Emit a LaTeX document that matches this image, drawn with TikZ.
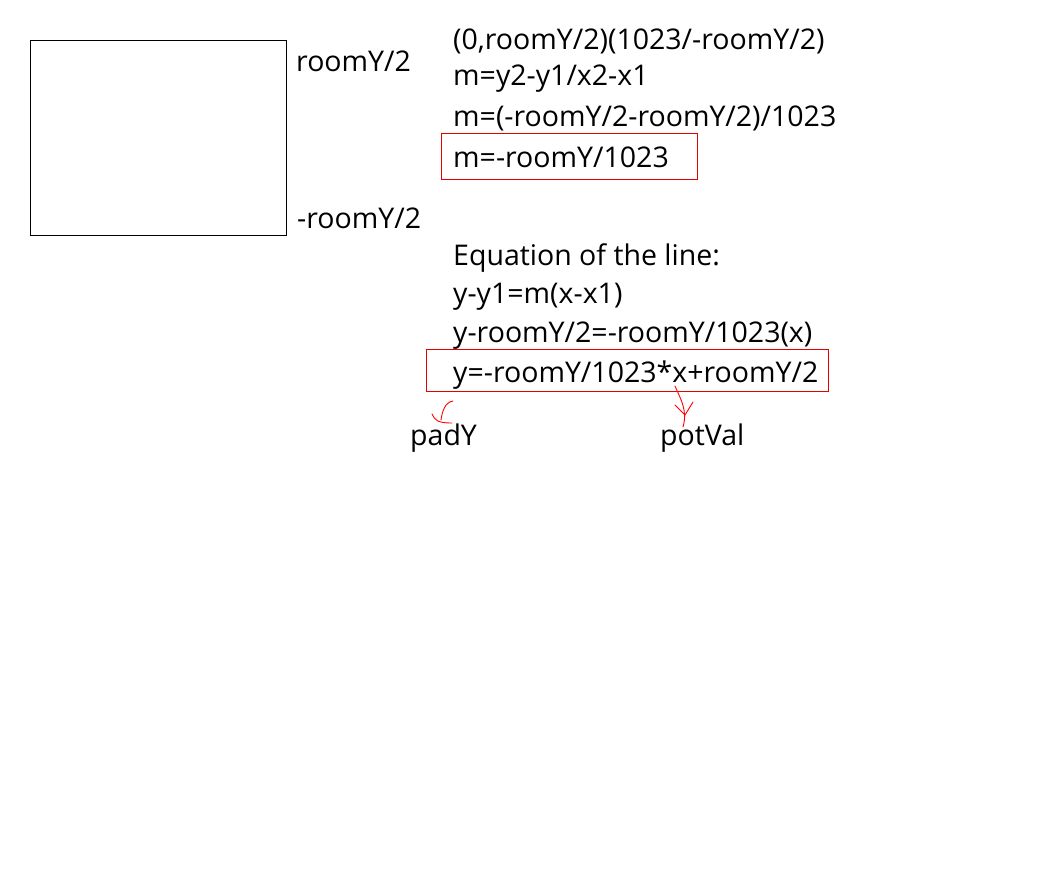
\documentclass[tikz,border=0pt]{standalone}
\usepackage{fontspec}
\setmainfont{Open Sans}
\begin{document}
\begin{tikzpicture}[x=1pt,y=-1pt,
	txt/.style={anchor=west, inner sep=0pt, font=\fontsize{28.5}{32}\selectfont},
	caja/.style={red!90!black, line width=1pt},
	trazo/.style={red, line width=0.9pt, line cap=round, line join=round}]
	\useasboundingbox (0,0) rectangle (1055,876);

	% Habitación
		\draw[line width=1pt] (30.5,40.5) rectangle (286.5,235.5);
		\node[txt] (top) at (296,61) {roomY/2};
		\node[txt] (bot) at (297,218) {-roomY/2};

	% Pendiente
		\node[txt] (p1) at (453,41) {(0,roomY/2)(1023/-roomY/2)};
		\node[txt] (m1) at (453,79) {m=y2-y1/x2-x1};
		\node[txt] (m2) at (453,118) {m=(-roomY/2-roomY/2)/1023};
		\node[txt] (m3) at (453,157) {m=-roomY/1023};
		\draw[caja] (441.5,133.5) rectangle (697.5,179.5);

	% Recta
		\node[txt] (e0) at (453,258) {Equation of the line:};
		\node[txt] (e1) at (453,297) {y-y1=m(x-x1)};
		\node[txt] (e2) at (453,336) {y-roomY/2=-roomY/1023(x)};
		\node[txt] (e3) at (453,375) {y=-roomY/1023*x+roomY/2};
		\draw[caja] (426.5,349.5) rectangle (828.5,391.5);

	% Etiquetas
		\node[txt] (pad) at (410,438) {padY};
		\node[txt] (pot) at (660,438) {potVal};

	% Flechas a mano
		\draw[trazo] (453,401) .. controls (445,402) and (442,412) .. (441,420);
		\draw[trazo] (432,414) .. controls (435,420) and (437,423) .. (452,423);
		\draw[trazo] (675,386) .. controls (680,398) and (688,410) .. (683,427);
		\draw[trazo] (675,405) -- (685,415) -- (693,402);
\end{tikzpicture}
\end{document}
